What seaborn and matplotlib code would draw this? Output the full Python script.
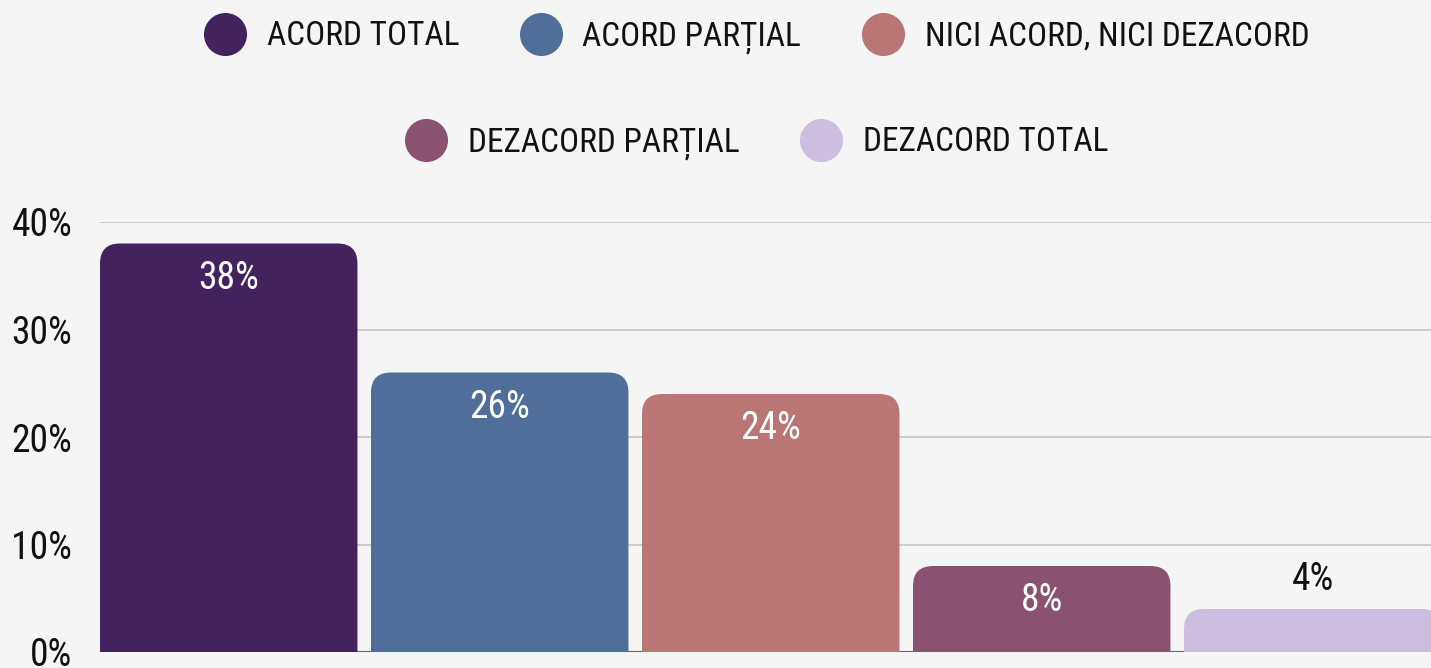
import matplotlib
matplotlib.use("Agg")
import os
import matplotlib.pyplot as plt
from matplotlib import font_manager as fm
from matplotlib.patches import FancyBboxPatch
from matplotlib.lines import Line2D
import seaborn as sns
import pandas as pd

# Survey answers and their shares (%)
categories = ["ACORD TOTAL", "ACORD PARȚIAL", "NICI ACORD, NICI DEZACORD",
              "DEZACORD PARȚIAL", "DEZACORD TOTAL"]
values = [38, 26, 24, 8, 4]
colors = ["#42235e", "#4f6e99", "#b97674", "#8a5270", "#cdbedf"]
y_ticks = [0, 10, 20, 30, 40]
y_tick_labels = ["0%", "10%", "20%", "30%", "40%"]

BG = "#f5f5f5"

sns.set_theme(style="white")


def narrow_font():
    """Return a FontProperties for a condensed sans face, if one is installed."""
    prefs = ["robotocondensed-regular", "opensans_condensed-regular",
             "opensanscondensed", "liberationsansnarrow-regular",
             "dejavusanscondensed.ttf"]
    files = {os.path.basename(f.fname).lower(): f.fname for f in fm.fontManager.ttflist}
    for p in prefs:
        for base, path in files.items():
            if base.startswith(p):
                return fm.FontProperties(fname=path), True
    return fm.FontProperties(family="DejaVu Sans"), False


FP, is_narrow = narrow_font()
plt.rcParams["font.family"] = [FP.get_name(), "DejaVu Sans"]
FS_LEG = 24 if is_narrow else 20
FS_NUM = 27 if is_narrow else 21

df = pd.DataFrame({"cat": categories, "val": values})

fig = plt.figure(figsize=(14.31, 6.68), dpi=100, facecolor=BG)
ax = fig.add_axes([100 / 1431, 16 / 668, 1 - 100 / 1431, (652 - 222) / 668])
ax.set_facecolor(BG)

sns.barplot(data=df, x="cat", y="val", hue="cat", palette=colors,
            width=0.95, legend=False, ax=ax, saturation=1)

ax.set_ylim(0, 40)
ax.set_xlim(-0.475, -0.475 + 1331 / 271)

# Replace the square bars with ones whose top corners are rounded
fig.canvas.draw()
px_x = (ax.get_xlim()[1] - ax.get_xlim()[0]) / ax.bbox.width
px_y = (ax.get_ylim()[1] - ax.get_ylim()[0]) / ax.bbox.height
radius_px = 20
for patch, color in zip(list(ax.patches), colors):
    x0, w, h = patch.get_x(), patch.get_width(), patch.get_height()
    patch.set_visible(False)
    extra = 5
    rounded = FancyBboxPatch((x0, -extra), w, h + extra,
                             boxstyle=f"round,pad=0,rounding_size={radius_px * px_x}",
                             mutation_aspect=px_y / px_x,
                             facecolor=color, edgecolor="none", zorder=3)
    ax.add_patch(rounded)


def fp(size):
    p = FP.copy()
    p.set_size(size)
    return p


# Value labels
for i, v in enumerate(values):
    inside = v >= 6
    ax.annotate(f"{v}%", (i, v), xytext=(0, -25 if inside else 21),
                textcoords="offset points", ha="center", va="center",
                color="white" if inside else "#111111",
                fontproperties=fp(FS_NUM), zorder=4)

ax.set_yticks(y_ticks)
ax.set_yticklabels(y_tick_labels, fontproperties=fp(FS_NUM), color="#111111")
ax.tick_params(axis="y", length=0, pad=20)
ax.set_xticks([])
ax.set_xlabel("")
ax.set_ylabel("")
ax.yaxis.grid(True, color="#c4c4c4", linewidth=1.2)
ax.set_axisbelow(True)
for s in ax.spines.values():
    s.set_visible(False)
ax.axhline(0, color="#666666", linewidth=1.5, zorder=2)


def handles(idx):
    return [Line2D([], [], marker="o", linestyle="none", markersize=31,
                   markerfacecolor=colors[i], markeredgecolor="none",
                   label=categories[i]) for i in idx]


leg_kw = dict(frameon=False, prop=fp(FS_LEG), handletextpad=0.7, columnspacing=1.9,
              handlelength=1.1, borderaxespad=0, labelcolor="#111111")
leg1 = fig.legend(handles=handles([0, 1, 2]), ncol=3, loc="center",
                  bbox_to_anchor=(758 / 1431, 1 - 37 / 668), **leg_kw)
leg2 = fig.legend(handles=handles([3, 4]), ncol=2, loc="center",
                  bbox_to_anchor=(758 / 1431, 1 - 143 / 668), **leg_kw)

fig.savefig("out.png", dpi=100, facecolor=BG)
